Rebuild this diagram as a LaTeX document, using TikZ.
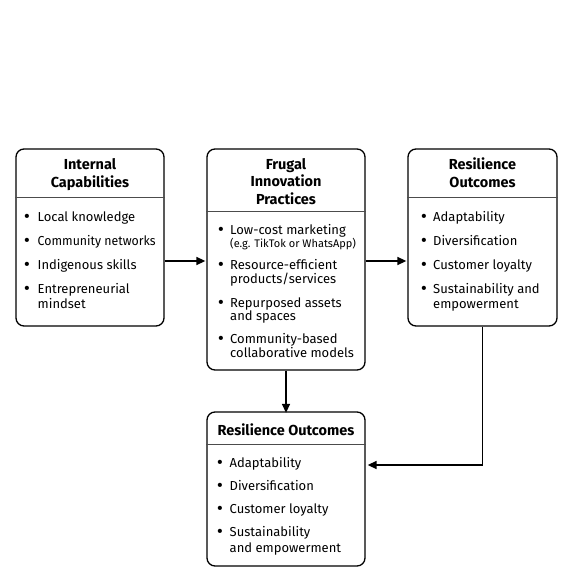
\documentclass[tikz,border=0pt]{standalone}
\usepackage{fontspec}
\setmainfont{Fira Sans}
\newfontfamily\condfont[FakeStretch=0.95]{Fira Sans}
\usetikzlibrary{arrows.meta}
\begin{document}
\begin{tikzpicture}[x=1pt,y=-1pt,
  box/.style={draw, line width=1.3pt, rounded corners=8pt, inner sep=0pt},
  ttl/.style={font=\fontsize{14.5}{17.5}\selectfont\bfseries, align=center, anchor=base, inner sep=0pt},
  itm/.style={font=\fontsize{13}{15}\selectfont, anchor=base west, inner sep=0pt},
  bul/.style={font=\fontsize{15}{15}\selectfont\bfseries, anchor=base, inner sep=0pt},
  sep/.style={line width=0.8pt, draw=black!70},
  arr/.style={line width=1.5pt, -{Triangle[length=9pt,width=8pt]}}]
\useasboundingbox (0,0) rectangle (572,569);
\fill[white] (0,0) rectangle (572,569);
% boxes
\node[box, minimum width=148pt, minimum height=177pt] (b1) at (90,237.5) {};
\node[box, minimum width=158pt, minimum height=221pt] (b2) at (286,259.5) {};
\node[box, minimum width=149pt, minimum height=177pt] (b3) at (482.5,237.5) {};
\node[box, minimum width=158pt, minimum height=154pt] (b4) at (286,489) {};
% header lines
\draw[sep] (b1.west |- 0,197) -- (b1.east |- 0,197);
\draw[sep] (b2.west |- 0,211) -- (b2.east |- 0,211);
\draw[sep] (b3.west |- 0,197) -- (b3.east |- 0,197);
\draw[sep] (b4.west |- 0,444) -- (b4.east |- 0,444);
% titles (anchored at last line baseline)
\node[ttl] (t1) at (90,187.5) {Internal\\Capabilities};
\node[ttl] (t2) at (286,204.5) {Frugal\\Innovation\\Practices};
\node[ttl] (t3) at (482.5,187.5) {Resilience\\Outcomes};
\node[ttl] (t4) at (286,435.5) {Resilience Outcomes};
% box 1 items
\node[bul] (p11) at (27,221.5) {•}; \node[itm] (i11) at (37.5,221.5) {Local knowledge};
\node[bul] (p12) at (27,245.5) {•}; \node[itm] (i12) at (37.5,245.5) {\condfont Community networks};
\node[bul] (p13) at (27,269.5) {•}; \node[itm] (i13) at (37.5,269.5) {Indigenous skills};
\node[bul] (p14) at (27,293.5) {•}; \node[itm] (i14) at (37.5,293.5) {Entrepreneurial};
\node[itm] (i14b) at (37.5,308.5) {mindset};
% box 2 items
\node[bul] (p21) at (221,234) {•}; \node[itm] (i21) at (230,234) {Low-cost marketing};
\node[itm, font=\fontsize{11}{12}\selectfont] (i21b) at (230,247) {(e.g. TikTok or WhatsApp)};
\node[bul] (p22) at (221,269.5) {•}; \node[itm] (i22) at (230,269.5) {Resource-efficient};
\node[itm] (i22b) at (230,283.5) {products/services};
\node[bul] (p23) at (221,307) {•}; \node[itm] (i23) at (230,307) {Repurposed assets};
\node[itm] (i23b) at (230,320) {and spaces};
\node[bul] (p24) at (221,343.5) {•}; \node[itm] (i24) at (230,343.5) {Community-based};
\node[itm] (i24b) at (230,357.5) {collaborative models};
% box 3 items
\node[bul] (p31) at (424,221.5) {•}; \node[itm] (i31) at (433,221.5) {Adaptability};
\node[bul] (p32) at (424,245.5) {•}; \node[itm] (i32) at (433,245.5) {Diversification};
\node[bul] (p33) at (424,269.5) {•}; \node[itm] (i33) at (433,269.5) {Customer loyalty};
\node[bul] (p34) at (424,293.5) {•}; \node[itm] (i34) at (433,293.5) {Sustainability and};
\node[itm] (i34b) at (433,308.5) {empowerment};
% box 4 items
\node[bul] (p41) at (220,467.5) {•}; \node[itm] (i41) at (229.5,467.5) {Adaptability};
\node[bul] (p42) at (220,490.5) {•}; \node[itm] (i42) at (229.5,490.5) {Diversification};
\node[bul] (p43) at (220,513.5) {•}; \node[itm] (i43) at (229.5,513.5) {Customer loyalty};
\node[bul] (p44) at (220,536.5) {•}; \node[itm] (i44) at (229.5,536.5) {Sustainability};
\node[itm] (i44b) at (229.5,552.5) {and empowerment};
% connectors
\coordinate (ya) at (0,261);
\coordinate (yb) at (0,465);
\draw[arr] (b1.east |- ya) -- ([xshift=-1pt]b2.west |- ya);
\draw[arr] (b2.east |- ya) -- ([xshift=-1pt]b3.west |- ya);
\draw[arr] (b2.south) -- ([yshift=-1.5pt]b4.north);
\draw[arr] (b3.south) -- (b3.south |- yb) -- ([xshift=2pt]b4.east |- yb);
\end{tikzpicture}
\end{document}
